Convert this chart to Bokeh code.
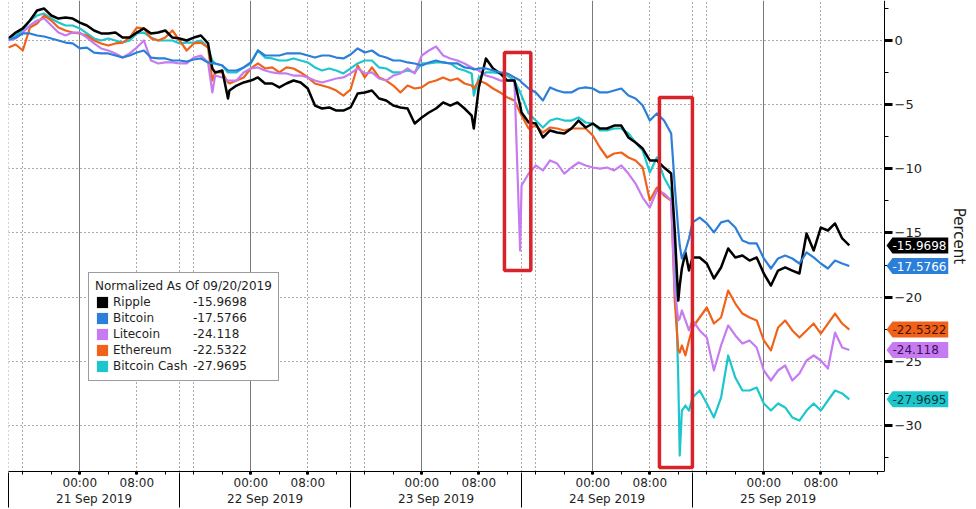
from bokeh.plotting import figure
from bokeh.models import (Range1d, LinearAxis, FixedTicker, Grid, BoxAnnotation,
                          Label, PolyAnnotation, Legend, LegendItem)
from bokeh.embed import file_html
from bokeh.resources import INLINE

# ---------------- data (hours after 21 Sep 2019 00:00, percent change) ----------------
HOURS = [-10, -9, -8, -7, -6, -5, -4, -3, -2, -1,
         0, 1, 2, 3, 4, 5, 6, 7, 8, 9,
         10, 11, 12, 13, 14, 15, 16, 17, 18,
         18.6, 19, 20, 20.8,
         21, 22, 23, 24, 25, 26, 27, 28, 29, 30,
         31, 32, 33, 34, 35, 36, 37, 38, 39, 40,
         41, 42, 43, 44, 45, 46, 47, 48, 49, 50,
         51, 52, 53, 54, 55,
         55.3,
         56, 57, 58, 59, 60, 61,
         61.8,
         62, 63, 64, 65, 66, 67, 68, 69, 70, 71,
         72, 73, 74, 75, 76, 77, 78, 79, 80, 81,
         82, 83,
         83.5, 84, 84.2, 84.5, 85, 85.5,
         86, 87, 88, 89, 90, 91, 92, 93, 94, 95,
         96, 97, 98, 99, 100, 101, 102, 103, 104, 105,
         106, 107, 108]

RIPPLE = [0.16, 0.62, 0.94, 1.56, 2.34, 2.49, 1.95, 1.71, 1.79, 1.71,
          1.40, 1.17, 0.78, 0.55, 0.55, 0.62, 0.23, 0.23, 0.62, 0.94,
          0.55, 0.62, 0.78, 0.23, 0.16, 0.00, 0.23, 0.39, -0.23,
          -2.18, -2.49, -2.34, -4.52,
          -3.90, -3.51, -3.27, -3.12, -2.88, -3.35, -3.35, -3.66, -3.35, -3.12,
          -3.27, -3.74, -5.07, -5.30, -5.22, -5.46, -5.46, -5.22, -4.13, -4.05,
          -3.90, -4.52, -4.68, -5.07, -5.22, -5.30, -6.47, -6.00, -5.61, -5.30,
          -4.83, -5.07, -4.83, -5.30, -5.85,
          -6.86,
          -3.66, -1.40, -2.18, -2.57, -3.12, -3.12,
          -5.07,
          -5.61, -6.39, -6.47, -7.56, -7.01, -7.17, -7.25, -6.86, -6.24, -6.78,
          -6.47, -6.86, -6.86, -6.63, -6.63, -7.56, -7.95, -8.42, -9.35, -9.35,
          -9.90, -10.37,
          -14.81, -20.27, -19.10, -17.77, -16.52, -17.93,
          -16.91, -16.91, -17.38, -18.55, -17.69, -16.21, -16.91, -16.76, -17.15, -16.91,
          -18.16, -19.10, -17.93, -17.69, -17.93, -18.16, -15.04, -16.37, -14.58, -14.81,
          -14.26, -15.43, -15.9698]

BITCOIN = [0.08, 0.23, 0.55, 0.55, 0.39, 0.31, 0.16, 0.00, -0.16, -0.23,
           -0.62, -0.55, -0.94, -1.01, -1.01, -1.17, -1.33, -1.17, -0.94, -0.78,
           -1.33, -1.40, -1.40, -1.56, -1.56, -1.64, -1.48, -1.40, -1.71,
           -1.79, -1.79, -1.95, -2.34,
           -2.34, -2.34, -2.10, -1.71, -0.78, -1.17, -1.17, -1.17, -1.01, -1.01,
           -1.01, -1.17, -1.33, -1.17, -1.17, -1.33, -1.40, -1.09, -0.62, -0.94,
           -0.78, -1.17, -1.33, -1.56, -1.56, -1.71, -1.79, -1.95, -1.71, -1.56,
           -1.71, -1.79, -1.79, -2.10, -2.18,
           -2.26,
           -2.18, -2.18, -2.34, -2.49, -2.57, -2.88,
           -3.12,
           -3.27, -3.74, -4.05, -4.68, -3.66, -3.90, -4.05, -4.05, -3.74, -3.66,
           -3.74, -4.05, -4.05, -3.90, -3.74, -4.29, -4.52, -5.07, -6.24, -5.69,
           -6.24, -7.25,
           -11.30, -14.81, -15.98, -16.99, -16.37, -15.43,
           -14.18, -13.80, -14.26, -14.96, -14.18, -14.03, -14.58, -15.59, -15.82, -15.82,
           -16.99, -17.77, -16.99, -16.76, -16.99, -17.38, -16.52, -16.91, -17.38, -17.77,
           -17.15, -17.38, -17.5766]

LITECOIN = [0.00, 0.16, 0.62, 1.17, 1.56, 1.71, 1.17, 0.62, 0.39, 0.62,
            0.62, 0.23, -0.23, -0.62, -0.78, -1.01, -1.33, -1.01, -0.55, 0.00,
            -1.56, -1.79, -1.71, -1.71, -1.79, -1.79, -1.33, -1.17, -1.71,
            -4.05, -2.73, -2.88, -3.12,
            -3.12, -3.12, -2.49, -2.18, -2.10, -2.34, -2.49, -2.57, -2.57, -2.73,
            -2.73, -2.88, -3.12, -3.27, -3.12, -2.96, -2.88, -2.57, -2.18, -2.57,
            -2.49, -2.96, -3.12, -2.73, -2.57, -2.18, -2.57, -1.17, -0.78, -0.47,
            -1.17, -1.40, -1.56, -1.79, -2.10,
            -2.18,
            -2.34, -2.73, -2.88, -3.12, -3.12, -3.12,
            -16.37,
            -11.30, -10.37, -9.74, -10.13, -9.35, -9.59, -10.37, -9.90, -9.51, -9.74,
            -9.90, -9.98, -9.90, -10.13, -9.74, -10.37, -11.15, -12.24, -13.02, -11.69,
            -11.93, -12.47,
            -19.49, -21.82, -21.67, -21.04, -21.82, -22.60,
            -21.82, -22.60, -23.15, -25.72, -23.77, -22.21, -22.99, -23.62, -23.38, -23.93,
            -25.72, -26.50, -25.72, -25.33, -26.50, -25.95, -24.94, -24.55, -24.94, -25.57,
            -22.76, -23.93, -24.118]

ETHEREUM = [-0.55, -0.31, -0.78, 1.01, 1.33, 1.95, 1.56, 1.01, 0.78, 0.62,
            0.55, 0.39, 0.00, -0.23, -0.39, -0.23, -0.16, 0.23, 1.01, 0.94,
            0.16, 0.00, 0.23, 0.78, 0.00, -0.78, -0.23, -0.16, -0.55,
            -3.12, -2.49, -2.49, -3.27,
            -3.35, -3.12, -2.88, -2.18, -1.79, -2.18, -2.10, -2.49, -2.10, -2.18,
            -2.49, -2.88, -3.35, -3.51, -3.66, -3.90, -4.29, -3.82, -1.95, -2.88,
            -2.10, -2.88, -3.12, -3.51, -4.05, -3.51, -3.74, -3.66, -3.27, -3.12,
            -2.88, -3.12, -2.96, -3.35, -3.51,
            -3.74,
            -3.12, -3.35, -3.74, -4.05, -4.44, -4.68,
            -5.61,
            -5.85, -6.86, -6.63, -7.17, -6.78, -6.86, -7.01, -6.86, -6.86, -6.86,
            -7.40, -8.34, -9.12, -8.81, -8.73, -9.12, -9.35, -9.90, -12.47, -11.46,
            -12.08, -12.47,
            -20.27, -24.16, -24.32, -23.77, -24.55, -23.38,
            -22.37, -21.59, -20.81, -22.06, -21.59, -19.49, -20.50, -21.28, -21.59, -21.82,
            -23.38, -24.16, -22.37, -21.82, -22.60, -23.15, -22.60, -22.06, -22.84, -22.06,
            -21.28, -22.06, -22.5322]

BITCOIN_CASH = [0.23, 0.39, 0.78, 1.56, 1.95, 2.10, 1.71, 1.40, 1.17, 1.17,
                0.94, 0.55, 0.16, 0.00, 0.16, 0.00, -0.16, 0.00, 0.55, 0.62,
                0.23, 0.00, 0.00, 0.00, -0.23, -0.16, -0.16, 0.00, -0.55,
                -1.56, -1.79, -1.95, -2.49,
                -2.49, -2.49, -2.10, -1.79, -0.78, -1.33, -1.40, -1.56, -1.56, -1.40,
                -1.56, -1.71, -2.10, -2.34, -2.18, -2.34, -2.57, -2.18, -1.79, -1.56,
                -1.56, -2.10, -2.18, -2.49, -2.49, -2.34, -2.49, -1.79, -1.79, -1.71,
                -1.71, -1.79, -2.18, -2.34, -2.57,
                -4.29,
                -2.88, -2.49, -2.49, -2.57, -2.73, -3.12,
                -4.05,
                -4.29, -5.69, -6.24, -6.78, -6.24, -6.08, -6.24, -6.24, -6.00, -6.39,
                -6.47, -7.01, -7.01, -6.86, -6.86, -7.25, -7.95, -8.57, -10.29, -9.12,
                -10.68, -11.69,
                -16.37, -26.50, -32.35, -28.84, -28.45, -28.84,
                -27.83, -27.28, -28.29, -29.38, -27.83, -24.55, -26.27, -27.28, -27.28, -27.05,
                -28.29, -28.84, -28.29, -28.60, -29.38, -29.62, -28.84, -28.29, -28.84, -28.06,
                -27.28, -27.51, -27.9695]

NAMES = ["Ripple", "Bitcoin", "Litecoin", "Ethereum", "Bitcoin Cash"]
LAST_VALUES = ["-15.9698", "-17.5766", "-24.118", "-22.5322", "-27.9695"]
LEGEND_TITLE = "Normalized As Of 09/20/2019"

Y_TICKS = [0, -5, -10, -15, -20, -25, -30]
Y_MINOR = [2.5, -2.5, -7.5, -12.5, -17.5, -22.5, -27.5, -32.5]
TIME_TICKS = [0, 8, 24, 32, 48, 56, 72, 80, 96, 104]
TIME_LABELS = ["00:00", "08:00"] * 5
TIME_MINOR = [-8, -4, 0, 4, 8, 12, 16, 20, 24, 28, 32, 36, 40, 44, 48, 52, 56, 60,
              64, 68, 72, 76, 80, 84, 88, 92, 96, 100, 104, 108, 112]
MIDNIGHTS = [0, 24, 48, 72, 96]
DOTTED_TIMES = [-10, -8, 8, 14, 16, 32, 38, 40, 56, 62, 64, 80, 86, 88, 104]
DAY_BOUNDS = [-10, 14, 38, 62, 86]
DAY_CENTERS = [2, 26, 50, 74, 98]
DAY_LABELS = ["21 Sep 2019", "22 Sep 2019", "23 Sep 2019", "24 Sep 2019", "25 Sep 2019"]
# highlighted windows: (left hour, right hour, top %, bottom %)
HIGHLIGHTS = [(59.6, 63.3, -0.94, -17.93), (81.35, 85.98, -4.44, -33.28)]

SERIES = [RIPPLE, BITCOIN, LITECOIN, ETHEREUM, BITCOIN_CASH]
COLORS = ["#000000", "#2b7fd9", "#c67cf0", "#f0621a", "#1cc6cc"]
TAG_TEXT = ["#ffffff", "#ffffff", "#3c0f59", "#4a1300", "#083b3d"]
WIDTHS = [2.5, 2.2, 2.2, 2.2, 2.2]
for s in SERIES:
    assert len(s) == len(HOURS)

# ---------------- geometry (page pixels -> data) ----------------
FL, FW, FH = 8, 940, 471          # frame left, width, height
PX_PER_H, PX_PER_PCT = 7.125, 12.83
X0 = -10.007
X1 = X0 + FW / PX_PER_H
Y1 = 40 / PX_PER_PCT
Y0 = Y1 - FH / PX_PER_PCT
FONT = "DejaVu Sans"
TXT = "#1e1e1e"


def sx(px):
    return X0 + (px - FL) / PX_PER_H


def sy(py):
    return Y1 - py / PX_PER_PCT


AXIS_X = sx(884)   # where the value axis sits

p = figure(frame_width=FW, frame_height=FH,
           x_range=Range1d(X0, X1), y_range=Range1d(Y0, Y1),
           output_backend="svg", toolbar_location=None,
           x_axis_location=None, y_axis_location=None,
           min_border_left=FL, min_border_top=0, min_border_right=0,
           min_border_bottom=0,
           background_fill_color="white", border_fill_color="white",
           outline_line_color=None)
p.center = [r for r in p.center if not isinstance(r, Grid)]

p.add_layout(Grid(dimension=1, ticker=FixedTicker(ticks=Y_TICKS),
                  cross_bounds=(X0, AXIS_X),
                  grid_line_color="#555555", grid_line_dash="1 3"))
p.add_layout(Grid(dimension=0, ticker=FixedTicker(ticks=MIDNIGHTS),
                  grid_line_color="#7a7a7a"))
p.add_layout(Grid(dimension=0, ticker=FixedTicker(ticks=DOTTED_TIMES),
                  grid_line_color="#555555", grid_line_dash="1 3"))

# lines
for i in [4, 3, 2, 0, 1]:
    p.line(HOURS, SERIES[i], line_color=COLORS[i], line_width=WIDTHS[i],
           line_join="round")

# value axis, fixed at the end of the time span (labels to its right)
yax = LinearAxis(fixed_location=AXIS_X,
                 ticker=FixedTicker(ticks=Y_TICKS, minor_ticks=Y_MINOR),
                 major_label_text_font=FONT, major_label_text_font_size="13px",
                 major_label_text_color=TXT, major_label_standoff=2,
                 major_tick_in=0, major_tick_out=8, major_tick_line_width=3,
                 minor_tick_in=0, minor_tick_out=4,
                 axis_label=" ", axis_label_text_font_size="15px",
                 axis_label_standoff=-49,
                 axis_line_color="black", major_tick_line_color="black",
                 minor_tick_line_color="black")
p.add_layout(yax, "right")

# axis title on the right edge
pax = LinearAxis(ticker=FixedTicker(ticks=[]), axis_label="Percent",
                 axis_label_text_font=FONT, axis_label_text_font_size="15px",
                 axis_label_text_font_style="normal", axis_label_text_color=TXT,
                 axis_label_standoff=1, axis_line_color=None,
                 major_tick_in=0, major_tick_out=0, minor_tick_in=0, minor_tick_out=0)
p.add_layout(pax, "right")

# time axis
tax = LinearAxis(ticker=FixedTicker(ticks=TIME_TICKS, minor_ticks=TIME_MINOR),
                 bounds=(X0, AXIS_X),
                 major_label_overrides=dict(zip(TIME_TICKS, TIME_LABELS)),
                 major_label_text_font=FONT, major_label_text_font_size="12px",
                 major_label_text_color=TXT, major_label_standoff=1,
                 major_tick_in=0, major_tick_out=3, major_tick_line_width=3,
                 minor_tick_in=0, minor_tick_out=3,
                 axis_line_color="black", major_tick_line_color="black",
                 minor_tick_line_color="black")
p.add_layout(tax, "below")

# date axis with day separators (minor ticks)
dax = LinearAxis(ticker=FixedTicker(ticks=DAY_CENTERS, minor_ticks=DAY_BOUNDS),
                 major_label_overrides=dict(zip(DAY_CENTERS, DAY_LABELS)),
                 major_label_text_font=FONT, major_label_text_font_size="12px",
                 major_label_text_color=TXT, major_label_standoff=-16,
                 major_tick_in=0, major_tick_out=0, major_tick_line_color=None,
                 minor_tick_in=20, minor_tick_out=15, minor_tick_line_color="black",
                 axis_line_color=None)
p.add_layout(dax, "below")

# highlight boxes
for (l, r, t, b) in HIGHLIGHTS:
    p.add_layout(BoxAnnotation(left=l, right=r, top=t, bottom=b, fill_alpha=0,
                               line_color="#d8232a", line_width=3.5, line_alpha=1))

# last-value tags next to the value axis
hh = 8 / PX_PER_PCT
for i in range(5):
    v = SERIES[i][-1]
    p.add_layout(PolyAnnotation(
        xs=[sx(886), sx(892), sx(948), sx(948), sx(892)],
        ys=[v, v + hh, v + hh, v - hh, v - hh],
        fill_color=COLORS[i], fill_alpha=1, line_color=None))
    p.add_layout(Label(x=sx(892), y=v, text=LAST_VALUES[i], text_align="left",
                       text_baseline="middle", text_font=FONT,
                       text_font_size="12px", text_color=TAG_TEXT[i],
                       level="overlay"))

# legend: swatch + name column, then a second legend for the value column
nan = float("nan")
swatches = []
for i in range(5):
    swatches.append(p.quad(left=[nan], right=[nan], top=[nan], bottom=[nan],
                           fill_color=COLORS[i], line_color=None))
common = dict(label_text_font=FONT, label_text_font_size="12px",
              label_text_color=TXT, label_height=16, glyph_height=14,
              spacing=0, padding=6, margin=0)
legend = Legend(items=[LegendItem(label=NAMES[i], renderers=[swatches[i]])
                       for i in range(5)],
                location=(80, 90), glyph_width=14, label_standoff=4,
                title=LEGEND_TITLE, title_text_font=FONT, title_text_font_size="12px",
                title_text_font_style="normal", title_standoff=1,
                title_text_color=TXT,
                border_line_color="#3a3a3a", border_line_width=1.5,
                background_fill_color="white", background_fill_alpha=1, **common)
p.add_layout(legend)
values_legend = Legend(items=[LegendItem(label=LAST_VALUES[i], renderers=[swatches[i]])
                              for i in range(5)],
                       location=(185, 97), glyph_width=0, label_standoff=0,
                       border_line_color=None, background_fill_alpha=0, **common)
p.add_layout(values_legend)

open("out.html", "w").write(file_html(p, INLINE))
